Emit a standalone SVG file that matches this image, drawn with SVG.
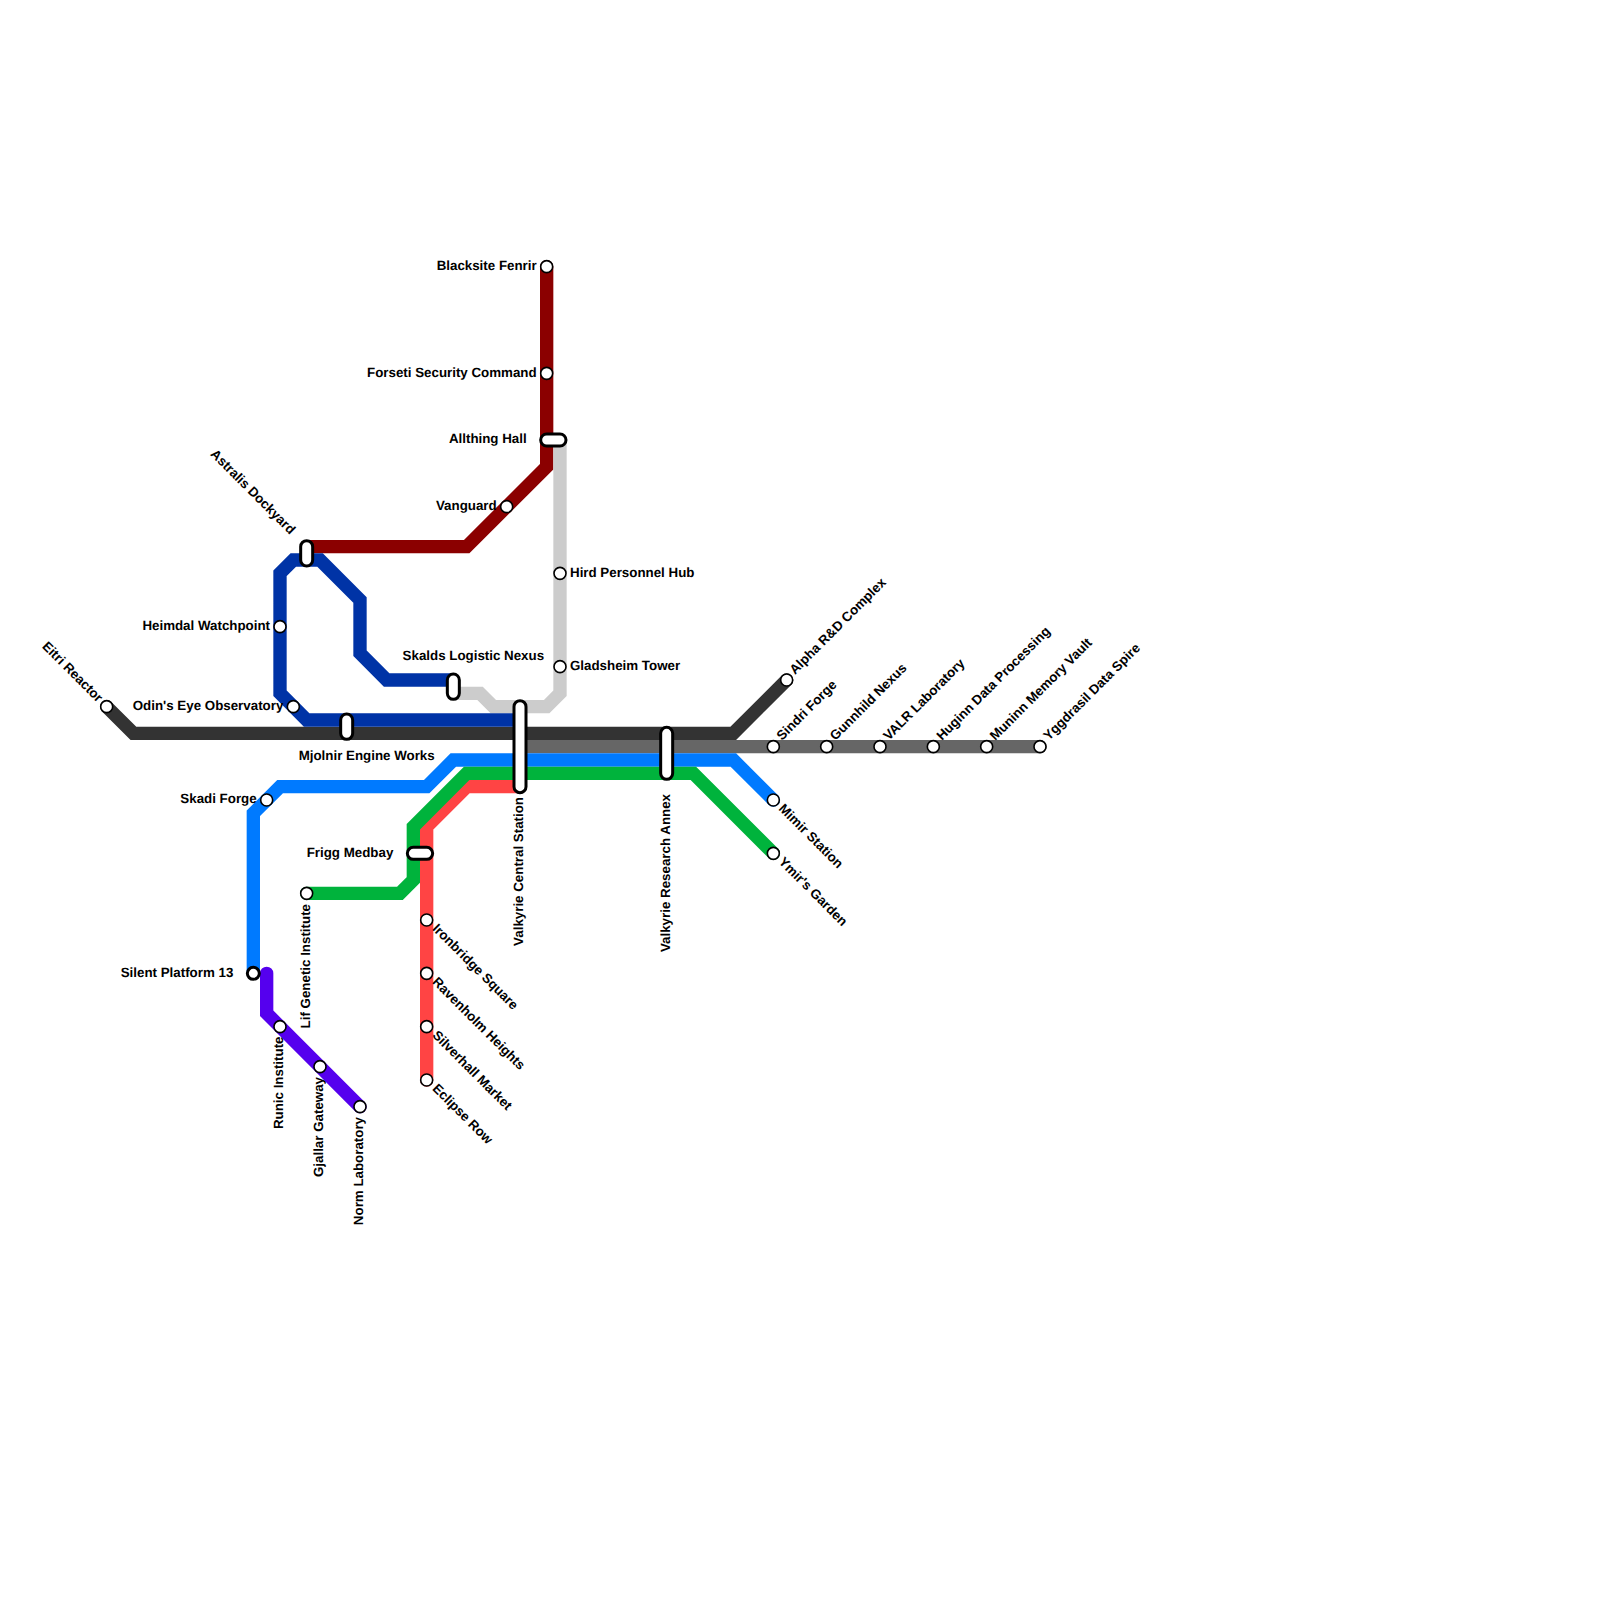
<svg xmlns="http://www.w3.org/2000/svg" width="1600" height="1600" viewBox="0 0 1600 1600">
<style>
.l{fill:none;stroke-width:13.33;stroke-linejoin:miter;stroke-linecap:round}
.s{fill:#fff;stroke:#000;stroke-width:1.6}
.t{fill:#fff;stroke:#000;stroke-width:3}
text{font-family:"Liberation Sans",Arial,sans-serif;font-size:13.33px;font-weight:700;fill:#000;text-rendering:geometricPrecision}
.e{text-anchor:end}
.m{text-anchor:middle}
</style>
<rect width="1600" height="1600" fill="#fff"/>
<g id="connectors">
<path class="l" stroke="#8b0000" d="M546.67 266.67V466.67L466.67 546.67H306.67"/>
<path class="l" stroke="#cccccc" d="M453.33 693.33H480L493.33 706.67H546.67L560 693.33V440"/>
<path class="l" stroke="#333333" d="M106.67 706.67L133.33 733.33H733.33L786.67 680"/>
<path class="l" stroke="#666666" d="M520 746.67H1040"/>
<path class="l" stroke="#0033a6" d="M453.33 680H386.67L360 653.33V600L320 560H293.33L280 573.33V693.33L306.67 720H520"/>
<path class="l" stroke="#007aff" d="M773.33 800L733.33 760H453.33L426.67 786.67H280L253.33 813.33V973.33"/>
<path class="l" stroke="#ff4444" d="M520 786.67H466.67L426.67 826.67V1080"/>
<path class="l" stroke="#00b33c" d="M773.33 853.33L693.33 773.33H466.67L413.33 826.67V880L400 893.33H306.67"/>
<path class="l" stroke="#5500ee" d="M266.67 973.33V1013.33L360 1106.67"/>
</g>
<g id="n-blacksite"><circle class="s" cx="546.67" cy="266.67" r="6"/><text class="e" x="536.67" y="270">Blacksite Fenrir</text></g>
<g id="n-forseti"><circle class="s" cx="546.67" cy="373.33" r="6"/><text class="e" x="536.67" y="376.5">Forseti Security Command</text></g>
<g id="n-allthing"><rect class="t" x="540.67" y="434" width="25.33" height="12" rx="6"/><text class="e" x="526.67" y="443">Allthing Hall</text></g>
<g id="n-vanguard"><circle class="s" cx="506.67" cy="506.67" r="6"/><text class="e" x="496.67" y="510">Vanguard</text></g>
<g id="n-hird"><circle class="s" cx="560" cy="573.33" r="6"/><text x="570" y="576.5">Hird Personnel Hub</text></g>
<g id="n-gladsheim"><circle class="s" cx="560" cy="666.67" r="6"/><text x="570" y="670">Gladsheim Tower</text></g>
<g id="n-astralis"><rect class="t" x="300.67" y="540.67" width="12" height="25.33" rx="6"/><text class="e" transform="translate(290 535) rotate(45)">Astralis Dockyard</text></g>
<g id="n-heimdal"><circle class="s" cx="280" cy="626.67" r="6"/><text class="e" x="270" y="630">Heimdal Watchpoint</text></g>
<g id="n-odin"><circle class="s" cx="293.33" cy="706.67" r="6"/><text class="e" x="283.33" y="710">Odin's Eye Observatory</text></g>
<g id="n-mjolnir"><rect class="t" x="340.67" y="714" width="12" height="25.33" rx="6"/><text class="m" x="366.67" y="760">Mjolnir Engine Works</text></g>
<g id="n-skalds"><rect class="t" x="447.33" y="674" width="12" height="25.33" rx="6"/><text class="m" x="473.33" y="660">Skalds Logistic Nexus</text></g>
<g id="n-eitri"><circle class="s" cx="106.67" cy="706.67" r="6"/><text class="e" transform="translate(97.5 703) rotate(45)">Eitri Reactor</text></g>
<g id="n-valkyrie"><rect class="t" x="514" y="700.67" width="12" height="92" rx="6"/><text transform="translate(523.3 797) rotate(-90)" class="e">Valkyrie Central Station</text></g>
<g id="n-annex"><rect class="t" x="660.67" y="727.33" width="12" height="52" rx="6"/><text transform="translate(670 794) rotate(-90)" class="e">Valkyrie Research Annex</text></g>
<g id="n-alpha"><circle class="s" cx="786.67" cy="680" r="6"/><text transform="translate(795 675) rotate(-45)">Alpha R&amp;D Complex</text></g>
<g id="n-sindri"><circle class="s" cx="773.33" cy="746.67" r="6"/><text transform="translate(782 741) rotate(-45)">Sindri Forge</text></g>
<g id="n-gunnhild"><circle class="s" cx="826.67" cy="746.67" r="6"/><text transform="translate(835.3 741) rotate(-45)">Gunnhild Nexus</text></g>
<g id="n-valr"><circle class="s" cx="880" cy="746.67" r="6"/><text transform="translate(888.7 741) rotate(-45)">VALR Laboratory</text></g>
<g id="n-huginn"><circle class="s" cx="933.33" cy="746.67" r="6"/><text transform="translate(942 741) rotate(-45)">Huginn Data Processing</text></g>
<g id="n-muninn"><circle class="s" cx="986.67" cy="746.67" r="6"/><text transform="translate(995.3 741) rotate(-45)">Muninn Memory Vault</text></g>
<g id="n-yggdrasil"><circle class="s" cx="1040" cy="746.67" r="6"/><text transform="translate(1048.7 741) rotate(-45)">Yggdrasil Data Spire</text></g>
<g id="n-mimir"><circle class="s" cx="773.33" cy="800" r="6"/><text transform="translate(778 809.3) rotate(45)">Mimir Station</text></g>
<g id="n-ymir"><circle class="s" cx="773.33" cy="853.33" r="6"/><text transform="translate(778 862.6) rotate(45)">Ymir's Garden</text></g>
<g id="n-skadi"><circle class="s" cx="266.67" cy="800" r="6"/><text class="e" x="256.67" y="803">Skadi Forge</text></g>
<g id="n-silent"><circle cx="253.33" cy="973.33" r="6" fill="#fff" stroke="#000" stroke-width="3"/><text class="e" x="233.33" y="976.5">Silent Platform 13</text></g>
<g id="n-lif"><circle class="s" cx="306.67" cy="893.33" r="6"/><text transform="translate(310 904) rotate(-90)" class="e">Lif Genetic Institute</text></g>
<g id="n-frigg"><rect class="t" x="407.33" y="847.33" width="25.33" height="12" rx="6"/><text class="e" x="393.33" y="856.5">Frigg Medbay</text></g>
<g id="n-ironbridge"><circle class="s" cx="426.67" cy="920" r="6"/><text transform="translate(431.7 929.3) rotate(45)">Ironbridge Square</text></g>
<g id="n-ravenholm"><circle class="s" cx="426.67" cy="973.33" r="6"/><text transform="translate(431.7 982.6) rotate(45)">Ravenholm Heights</text></g>
<g id="n-silverhall"><circle class="s" cx="426.67" cy="1026.67" r="6"/><text transform="translate(431.7 1036) rotate(45)">Silverhall Market</text></g>
<g id="n-eclipse"><circle class="s" cx="426.67" cy="1080" r="6"/><text transform="translate(431.7 1089.3) rotate(45)">Eclipse Row</text></g>
<g id="n-runic"><circle class="s" cx="280" cy="1026.67" r="6"/><text transform="translate(283 1036.5) rotate(-90)" class="e">Runic Institute</text></g>
<g id="n-gjallar"><circle class="s" cx="320" cy="1066.67" r="6"/><text transform="translate(323 1077) rotate(-90)" class="e">Gjallar Gateway</text></g>
<g id="n-norm"><circle class="s" cx="360" cy="1106.67" r="6"/><text transform="translate(363 1117) rotate(-90)" class="e">Norm Laboratory</text></g>
</svg>
